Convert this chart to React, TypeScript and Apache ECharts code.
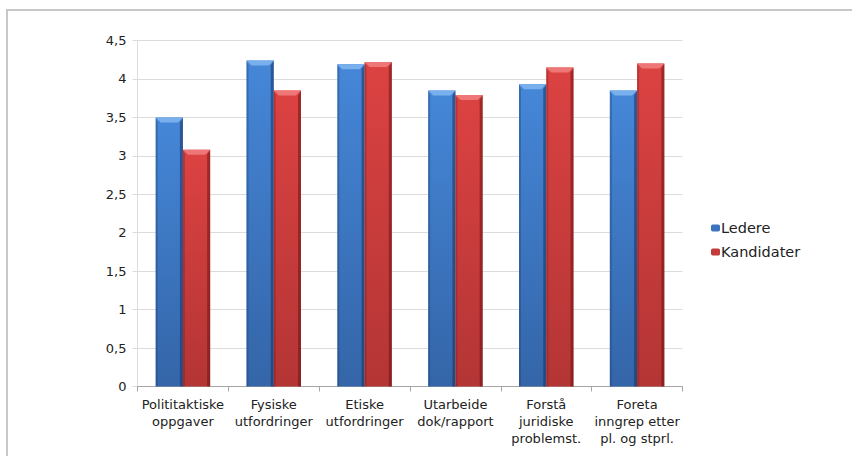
import React, { useEffect, useRef } from "react";
import * as echarts from "echarts";

// Survey scores per task area, leaders vs. candidates
const categories = [
  "Polititaktiske\noppgaver",
  "Fysiske\nutfordringer",
  "Etiske\nutfordringer",
  "Utarbeide\ndok/rapport",
  "Forstå\njuridiske\nproblemst.",
  "Foreta\ninngrep etter\npl. og stprl.",
];
const ledere = [3.5, 4.24, 4.19, 3.85, 3.93, 3.85];
const kandidater = [3.08, 3.85, 4.22, 3.79, 4.15, 4.2];
const yTicks = { min: 0, max: 4.5, interval: 0.5 };

const FONT = "DejaVu Sans";

// Colour sets for the bevelled bars
const palettes = [
  { top: "#4587d8", bottom: "#3465a8", bevel: "#78afec", left: "rgba(30,60,110,0.35)", right: "rgba(25,50,95,0.55)", legend: "#3b73bd" },
  { top: "#dc4242", bottom: "#b43535", bevel: "#ee7676", left: "rgba(110,20,20,0.3)", right: "rgba(100,15,15,0.5)", legend: "#c23a3a" },
];

const vGrad = (p: typeof palettes[0]) =>
  new echarts.graphic.LinearGradient(0, 0, 0, 1, [
    { offset: 0, color: p.top },
    { offset: 1, color: p.bottom },
  ]);

// Bevel overlay drawn over each bar, positioned with the category axis band
function bevel(seriesIdx: number) {
  const p = palettes[seriesIdx];
  return (params: any, api: any) => {
    const idx = api.value(0);
    const val = api.value(1);
    const top = api.coord([idx, val]);
    const base = api.coord([idx, 0]);
    const band = api.size([1, 0])[0];
    const w = band * 0.3;
    const x = seriesIdx === 0 ? top[0] - w : top[0];
    const y = top[1];
    const y0 = base[1];
    const b = 5;
    return {
      type: "group",
      children: [
        {
          type: "polygon",
          shape: { points: [[x, y], [x + 2, y + b], [x + 2, y0], [x, y0]] },
          style: { fill: p.left },
        },
        {
          type: "polygon",
          shape: { points: [[x + w, y], [x + w, y0], [x + w - 3, y0], [x + w - 3, y + b]] },
          style: { fill: p.right },
        },
        {
          type: "polygon",
          shape: { points: [[x, y], [x + w, y], [x + w - b, y + b], [x + b, y + b]] },
          style: { fill: p.bevel },
        },
      ],
    };
  };
}

export default function App() {
  const ref = useRef<HTMLDivElement>(null);

  useEffect(() => {
    if (!ref.current) return;
    const chart = echarts.init(ref.current, null, { renderer: "svg" });
    chart.setOption({
      animation: false,
      backgroundColor: "#ffffff",
      textStyle: { fontFamily: FONT },
      graphic: [
        {
          type: "rect",
          silent: true,
          shape: { x: 6, y: 9, width: 846, height: 2 },
          style: { fill: "#c8c8c8" },
        },
        {
          type: "rect",
          silent: true,
          shape: { x: 6, y: 9, width: 2, height: 447 },
          style: { fill: "#c8c8c8" },
        },
      ],
      grid: { left: 137.5, right: 169.5, top: 40.5, bottom: 69.5, containLabel: false },
      legend: {
        orient: "vertical",
        left: 706,
        top: 215,
        itemWidth: 9,
        itemHeight: 7,
        itemGap: 8,
        data: [
          { name: "Ledere", itemStyle: { color: palettes[0].legend } },
          { name: "Kandidater", itemStyle: { color: palettes[1].legend } },
        ],
        textStyle: { fontFamily: FONT, fontSize: 14.5, color: "#222", lineHeight: 16, padding: [0, 0, 0, -4] },
      },
      xAxis: {
        type: "category",
        data: categories,
        axisLine: { lineStyle: { color: "#a6a6a6", width: 1 } },
        axisTick: { show: true, length: 5, interval: 0, lineStyle: { color: "#a6a6a6" } },
        axisLabel: {
          interval: 0,
          margin: 9,
          fontFamily: FONT,
          fontSize: 13,
          lineHeight: 17,
          color: "#222",
        },
      },
      yAxis: {
        type: "value",
        min: yTicks.min,
        max: yTicks.max,
        interval: yTicks.interval,
        axisLine: { show: true, lineStyle: { color: "#dcdcdc" } },
        axisTick: { show: true, length: 5, lineStyle: { color: "#dcdcdc" } },
        splitLine: { lineStyle: { color: "#dcdcdc" } },
        axisLabel: {
          margin: 11,
          fontFamily: FONT,
          fontSize: 13,
          color: "#222",
          formatter: (v: number) => String(v).replace(".", ","),
        },
      },
      series: [
        {
          name: "Ledere",
          type: "bar",
          data: ledere,
          barGap: "0%",
          barCategoryGap: "40%",
          itemStyle: { color: vGrad(palettes[0]) },
        },
        {
          name: "Kandidater",
          type: "bar",
          data: kandidater,
          barGap: "0%",
          barCategoryGap: "40%",
          itemStyle: { color: vGrad(palettes[1]) },
        },
        {
          type: "custom",
          silent: true,
          renderItem: bevel(0),
          data: ledere.map((v, i) => [i, v]),
          z: 3,
        },
        {
          type: "custom",
          silent: true,
          renderItem: bevel(1),
          data: kandidater.map((v, i) => [i, v]),
          z: 3,
        },
      ],
    });
    return () => chart.dispose();
  }, []);

  return (
    <div
      ref={ref}
      style={{ position: "absolute", left: 0, top: 0, width: 852, height: 456 }}
    />
  );
}
